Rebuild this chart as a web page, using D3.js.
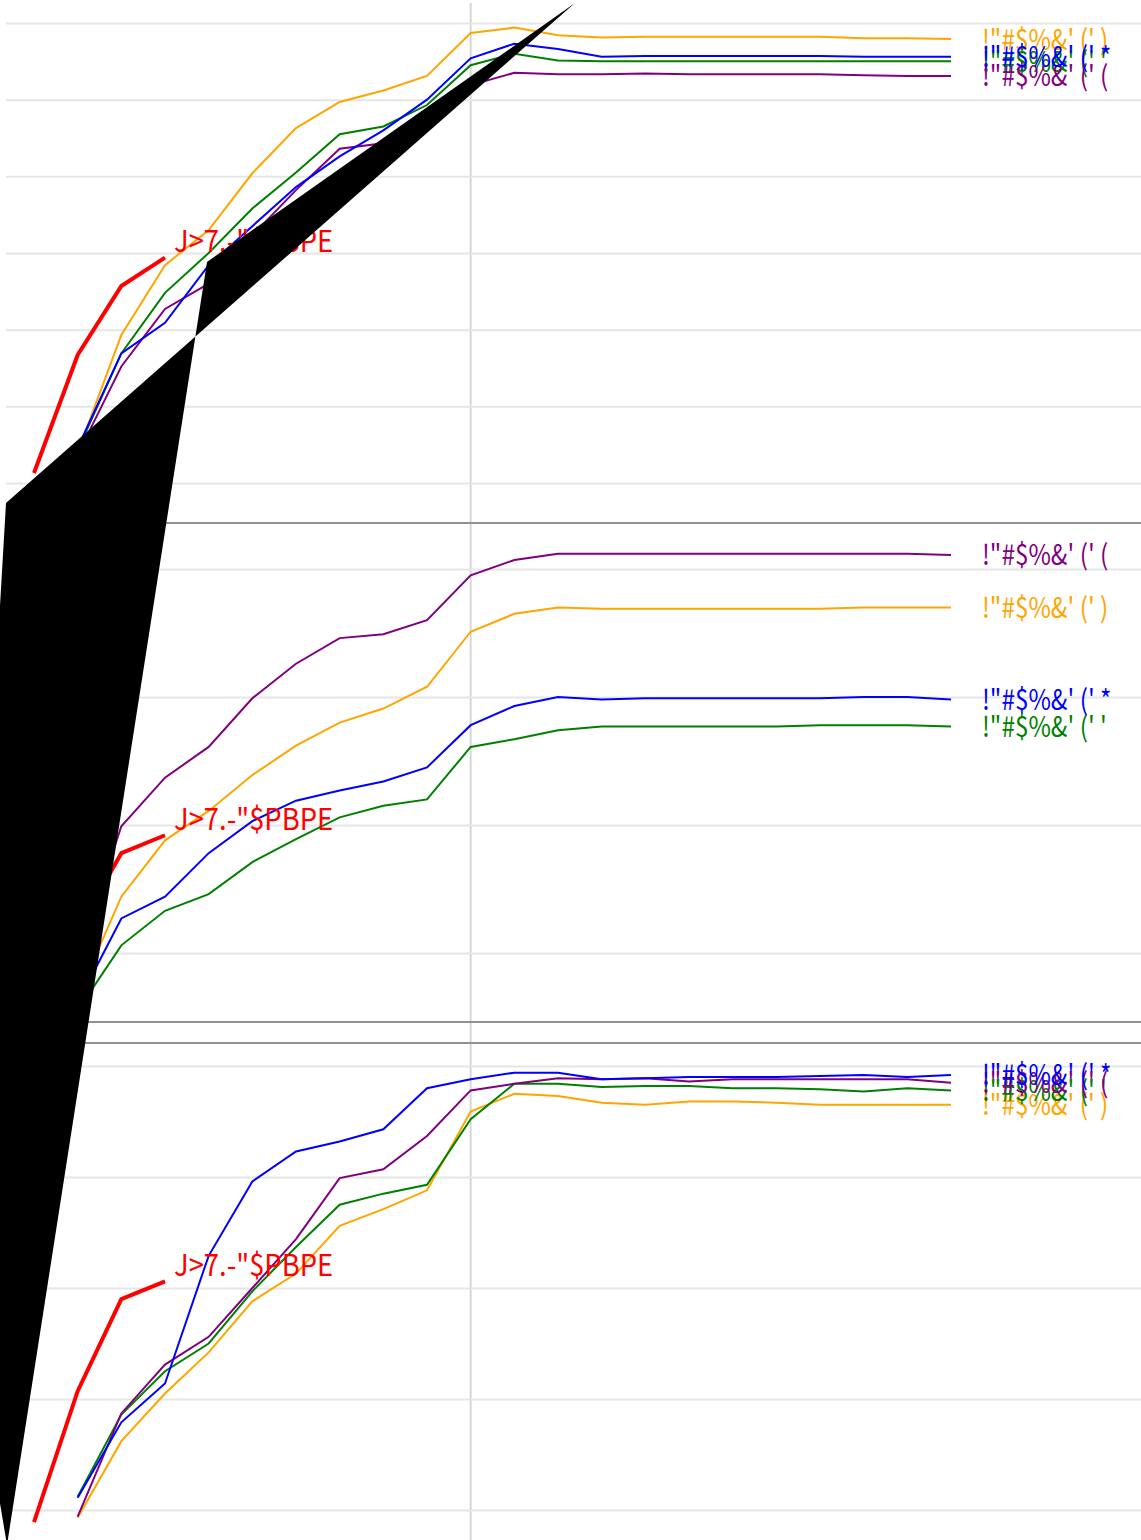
<!DOCTYPE html>
<html>
<head>
<meta charset="utf-8">
<script src="https://cdn.jsdelivr.net/npm/d3@7"></script>
<style>
  body { margin: 0; background: #fff; }
  svg { display: block; }
</style>
</head>
<body>
<div id="chart"></div>
<script>
// x categories (steps), 0..21
const steps = [0, 1, 2, 3, 4, 5, 6, 7, 8, 9, 10, 11, 12, 13, 14, 15, 16, 17, 18, 19, 20, 21];
const markerStep = 10;

// labels (as they appear)
const labelOrange = `!"#$%&' (' )`;
const labelBlue = `!"#$%&' (' *`;
const labelGreen = `!"#$%&' (' '`;
const labelPurple = `!"#$%&' (' (`;
const labelRed = `J>7.-"$PBPE`;

// panel 1 (red starts at step 0, the others at step 1)
const p1Red = [0.13, 1.67, 2.57, 2.94];
const p1Orange = [0.40, 1.93, 2.84, 3.30, 4.04, 4.63, 4.97, 5.12, 5.31, 5.87, 5.94, 5.84, 5.81, 5.82, 5.82, 5.82, 5.82, 5.82, 5.80, 5.80, 5.79];
const p1Green = [0.43, 1.69, 2.48, 3.00, 3.58, 4.05, 4.55, 4.65, 4.93, 5.45, 5.60, 5.51, 5.50, 5.50, 5.50, 5.50, 5.50, 5.50, 5.50, 5.50, 5.50];
const p1Purple = [0.37, 1.52, 2.27, 2.60, 3.23, 3.82, 4.36, 4.43, 4.80, 5.19, 5.35, 5.33, 5.33, 5.34, 5.33, 5.33, 5.33, 5.33, 5.32, 5.31, 5.31];
const p1Blue = [0.46, 1.69, 2.09, 2.84, 3.35, 3.86, 4.26, 4.60, 5.00, 5.54, 5.73, 5.66, 5.56, 5.57, 5.57, 5.57, 5.57, 5.57, 5.56, 5.56, 5.56];

// panel 2
const p2Red = [-0.45, 0.18, 0.78, 0.92];
const p2Orange = [-0.34, 0.44, 0.88, 1.11, 1.39, 1.62, 1.80, 1.91, 2.08, 2.51, 2.65, 2.70, 2.69, 2.69, 2.69, 2.69, 2.69, 2.69, 2.70, 2.70, 2.70];
const p2Green = [-0.45, 0.06, 0.33, 0.46, 0.71, 0.89, 1.06, 1.15, 1.20, 1.61, 1.67, 1.74, 1.77, 1.77, 1.77, 1.77, 1.77, 1.78, 1.78, 1.78, 1.77];
const p2Purple = [-0.05, 0.99, 1.37, 1.61, 1.99, 2.26, 2.46, 2.49, 2.60, 2.95, 3.07, 3.12, 3.12, 3.12, 3.12, 3.12, 3.12, 3.12, 3.12, 3.12, 3.11];
const p2Blue = [-0.39, 0.27, 0.44, 0.78, 1.03, 1.19, 1.27, 1.34, 1.45, 1.78, 1.93, 2.00, 1.98, 1.99, 1.99, 1.99, 1.99, 1.99, 2.00, 2.00, 1.98];

// panel 3
const p3Red = [-0.11, 1.07, 1.90, 2.06];
const p3Orange = [-0.07, 0.62, 1.05, 1.42, 1.88, 2.13, 2.56, 2.71, 2.88, 3.59, 3.75, 3.73, 3.67, 3.65, 3.68, 3.68, 3.67, 3.65, 3.65, 3.65, 3.65];
const p3Green = [0.12, 0.86, 1.25, 1.50, 1.97, 2.37, 2.75, 2.85, 2.93, 3.52, 3.84, 3.84, 3.81, 3.82, 3.82, 3.80, 3.80, 3.79, 3.77, 3.80, 3.78];
const p3Purple = [-0.06, 0.87, 1.31, 1.56, 2.00, 2.44, 2.99, 3.07, 3.37, 3.78, 3.84, 3.89, 3.88, 3.89, 3.86, 3.88, 3.88, 3.88, 3.88, 3.88, 3.85];
const p3Blue = [0.11, 0.79, 1.14, 2.29, 2.96, 3.23, 3.32, 3.43, 3.80, 3.88, 3.94, 3.94, 3.88, 3.89, 3.90, 3.90, 3.90, 3.91, 3.92, 3.90, 3.92];

// the stray filled shape, in panel 1 units (step, value)
const shadeSteps = [-0.641, 12.389, 3.962, -0.618, -1.672];
const shadeValues = [-0.261, 6.261, 2.883, -13.852, -10.291];

document.addEventListener('DOMContentLoaded', function () {
    const W = 1141, H = 1540;
    const font = '"Noto Sans CJK SC", "Noto Sans", sans-serif';

    const svg = d3.select("#chart")
        .append("svg")
        .attr("width", W)
        .attr("height", H);

    const x = d3.scaleLinear().domain([0, 21]).range([34, 951]);

    const panels = [
        { domain: [0, 6], range: [483, 23], borders: [],
          red: p1Red, series: [[p1Orange, "orange", labelOrange], [p1Green, "green", labelGreen], [p1Purple, "purple", labelPurple], [p1Blue, "blue", labelBlue]] },
        { domain: [0, 3], range: [953, 569], borders: [523, 1022],
          red: p2Red, series: [[p2Orange, "orange", labelOrange], [p2Green, "green", labelGreen], [p2Purple, "purple", labelPurple], [p2Blue, "blue", labelBlue]] },
        { domain: [0, 4], range: [1510, 1066], borders: [1043],
          red: p3Red, series: [[p3Orange, "orange", labelOrange], [p3Green, "green", labelGreen], [p3Purple, "purple", labelPurple], [p3Blue, "blue", labelBlue]] }
    ];

    // vertical marker line running through all panels
    svg.append("line")
        .attr("x1", x(markerStep)).attr("x2", x(markerStep))
        .attr("y1", 3).attr("y2", H)
        .attr("stroke", "#d6d6d6")
        .attr("stroke-width", 2);

    let y1 = null;

    panels.forEach(function (p, pi) {
        const y = d3.scaleLinear().domain(p.domain).range(p.range);
        if (pi === 0) y1 = y;

        // horizontal grid
        const grid = svg.append("g")
            .attr("transform", "translate(6,0)")
            .call(d3.axisRight(y).ticks(p.domain[1]).tickSize(W - 6).tickFormat(""));
        grid.select(".domain").remove();
        grid.selectAll(".tick line").attr("stroke", "#e6e6e6").attr("stroke-width", 2);

        // panel borders
        p.borders.forEach(function (b) {
            svg.append("line")
                .attr("x1", 6).attr("x2", W)
                .attr("y1", b).attr("y2", b)
                .attr("stroke", "#929292")
                .attr("stroke-width", 2);
        });

        const line = d3.line()
            .x(d => x(d[0]))
            .y(d => y(d[1]));

        p.series.forEach(function (s) {
            const pts = s[0].map((v, i) => [steps[i + 1], v]);
            svg.append("path")
                .datum(pts)
                .attr("d", line)
                .attr("fill", "none")
                .attr("stroke", s[1])
                .attr("stroke-width", 2);
        });

        // red series
        const redPts = p.red.map((v, i) => [steps[i], v]);
        svg.append("path")
            .datum(redPts)
            .attr("d", line)
            .attr("fill", "none")
            .attr("stroke", "red")
            .attr("stroke-width", 4);

        const redEnd = redPts[redPts.length - 1];
        svg.append("text")
            .attr("transform", "translate(" + (x(redEnd[0]) + 9) + "," + (y(redEnd[1]) - 5.5) + ") scale(0.913,1)")
            .attr("fill", "red")
            .style("font-family", font)
            .style("font-size", "30px")
            .text(labelRed);

        // end labels
        p.series.forEach(function (s) {
            const last = s[0].length - 1;
            svg.append("text")
                .attr("transform", "translate(" + (x(steps[last + 1]) + 31) + "," + (y(s[0][last]) + 10.5) + ") scale(0.87,1)")
                .attr("fill", s[1])
                .style("font-family", font)
                .style("font-size", "28px")
                .text(s[2]);
        });
    });

    // stray filled path drawn on top
    const shade = d3.line()
        .x(d => x(d[0]))
        .y(d => y1(d[1]));
    svg.append("path")
        .datum(shadeSteps.map((s, i) => [s, shadeValues[i]]))
        .attr("d", d => shade(d) + "Z")
        .attr("fill", "black");
});
</script>
</body>
</html>
